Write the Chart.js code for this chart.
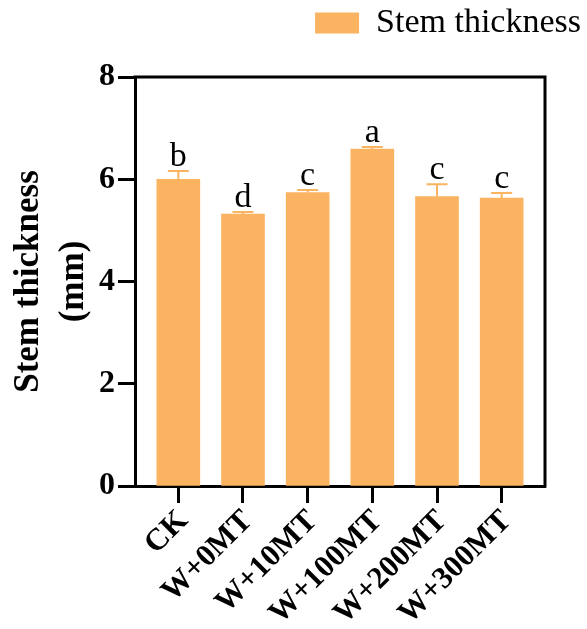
<!DOCTYPE html>
<html>
<head>
<meta charset="utf-8">
<script src="https://cdn.jsdelivr.net/npm/chart.js@4"></script>
<style>
  html, body { margin: 0; padding: 0; background: #fff; }
  #wrap { width: 587px; height: 629px; }
</style>
</head>
<body>
<div id="wrap"><canvas id="stem-chart" width="587" height="629"></canvas></div>
<script>
// --- data ---
const categories = ['CK', 'W+0MT', 'W+10MT', 'W+100MT', 'W+200MT', 'W+300MT'];
const stemMeans = [6.00, 5.32, 5.74, 6.59, 5.66, 5.63];
const stemErrors = [0.16, 0.04, 0.05, 0.04, 0.24, 0.10];
const sigLetters = ['b', 'd', 'c', 'a', 'c', 'c'];
const yTicks = [0, 2, 4, 6, 8];

const BAR_COLOR = '#FAB360';
const SERIF = '"Liberation Serif", "Times New Roman", serif';

// extra room under the legend before the plot starts
const legendGapPlugin = {
    id: 'legendGap',
    beforeInit(chart) {
        const fit = chart.legend.fit;
        chart.legend.fit = function () {
            fit.bind(chart.legend)();
            this.height += 27;
        };
    }
};

// upper error bars and significance letters
const errorBarPlugin = {
    id: 'errorBars',
    afterDatasetsDraw(chart) {
        const { ctx, scales: { x, y } } = chart;
        ctx.save();
        ctx.strokeStyle = BAR_COLOR;
        ctx.lineWidth = 2;
        stemMeans.forEach((v, i) => {
            const px = x.getPixelForValue(i);
            const top = y.getPixelForValue(v + stemErrors[i]);
            const base = y.getPixelForValue(v);
            ctx.beginPath();
            ctx.moveTo(px, base);
            ctx.lineTo(px, top);
            ctx.moveTo(px - 10.5, top);
            ctx.lineTo(px + 10.5, top);
            ctx.stroke();

            ctx.fillStyle = '#000';
            ctx.font = '34px ' + SERIF;
            ctx.textAlign = 'center';
            ctx.textBaseline = 'alphabetic';
            ctx.fillText(sigLetters[i], px, top - 5);
        });
        ctx.restore();
    }
};

// top and right edges of the plot frame
const framePlugin = {
    id: 'frame',
    afterDraw(chart) {
        const { ctx, chartArea: a } = chart;
        ctx.save();
        ctx.strokeStyle = '#000';
        ctx.lineWidth = 3;
        ctx.beginPath();
        ctx.moveTo(a.left - 1.5, a.top);
        ctx.lineTo(a.right, a.top);
        ctx.lineTo(a.right, a.bottom + 1.5);
        ctx.stroke();
        ctx.restore();
    }
};

new Chart(document.getElementById('stem-chart'), {
    type: 'bar',
    data: {
        datasets: [{
            label: 'Stem thickness',
            data: stemMeans.map((v, i) => ({ x: i, y: v })),
            backgroundColor: BAR_COLOR,
            borderWidth: 0,
            barThickness: 43
        }]
    },
    options: {
        responsive: false,
        animation: false,
        layout: { padding: 0 },
        plugins: {
            tooltip: { enabled: false },
            legend: {
                align: 'end',
                labels: {
                    boxWidth: 44,
                    boxHeight: 21,
                    color: '#000',
                    font: { family: SERIF, size: 34 },
                    padding: 6
                }
            }
        },
        scales: {
            x: {
                type: 'linear',
                offset: false,
                min: -0.67,
                max: 5.67,
                afterBuildTicks: axis => {
                    axis.ticks = categories.map((_, i) => ({ value: i }));
                },
                afterFit: axis => { axis.height = 143; },
                ticks: {
                    callback: v => categories[v],
                    minRotation: 45,
                    maxRotation: 45,
                    autoSkip: false,
                    color: '#000',
                    padding: 0,
                    labelOffset: 5,
                    font: { family: SERIF, size: 31, weight: 'bold' }
                },
                grid: {
                    offset: false,
                    drawOnChartArea: false,
                    tickLength: 17,
                    tickWidth: 3,
                    color: '#000'
                },
                border: { color: '#000', width: 3 }
            },
            y: {
                min: 0,
                max: 8,
                afterBuildTicks: axis => {
                    axis.ticks = yTicks.map(v => ({ value: v }));
                },
                afterFit: axis => { axis.width = 135; },
                ticks: {
                    color: '#000',
                    padding: 3,
                    font: { family: SERIF, size: 32, weight: 'bold' }
                },
                grid: {
                    drawOnChartArea: false,
                    tickLength: 17,
                    tickWidth: 3,
                    color: '#000'
                },
                border: { color: '#000', width: 3 },
                title: {
                    display: true,
                    text: ['Stem thickness', '(mm)'],
                    color: '#000',
                    font: { family: SERIF, size: 35, weight: 'bold', lineHeight: 1.3 },
                    padding: 6
                }
            },
            // empty axis that keeps a margin right of the plot frame
            rightGap: {
                type: 'linear',
                position: 'right',
                display: true,
                ticks: { display: false },
                grid: { display: false },
                border: { display: false },
                afterFit: axis => { axis.width = 42; }
            }
        }
    },
    plugins: [legendGapPlugin, errorBarPlugin, framePlugin]
});
</script>
</body>
</html>
